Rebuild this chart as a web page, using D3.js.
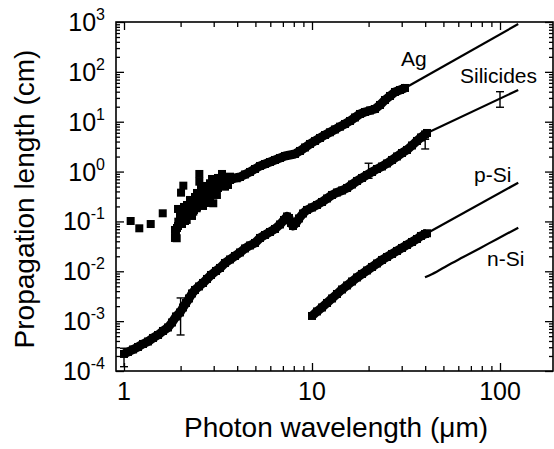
<!DOCTYPE html>
<html>
<head>
<meta charset="utf-8">
<script src="https://cdn.jsdelivr.net/npm/d3@7"></script>
<style>
  html, body { margin: 0; padding: 0; background: #fff; }
  svg { display: block; font-family: "Liberation Sans", Arial, Helvetica, sans-serif; }
</style>
</head>
<body>
<svg id="chart" width="554" height="449"></svg>
<script>
// ---- Data: [wavelength (µm), propagation length (cm)] ----

// Ag: scattered points at short wavelengths
const agScatter = [
  [1.085, 0.102], [1.206, 0.0728], [1.387, 0.0887], [1.607, 0.1456],
  [1.867, 0.0466], [1.907, 0.0460], [1.890, 0.0587], [1.867, 0.0674], [1.914, 0.0739],
  [1.945, 0.0989], [1.938, 0.0811], [2.035, 0.0889], [1.986, 0.1173], [1.986, 0.1287],
  [1.986, 0.1570], [2.027, 0.1246], [2.035, 0.1548], [2.137, 0.1229], [2.300, 0.1287],
  [1.938, 0.1778], [2.085, 0.1950], [2.244, 0.2042], [2.445, 0.1950], [2.632, 0.2042],
  [2.011, 0.3775], [2.068, 0.5215], [2.111, 0.1778], [2.155, 0.1070], [2.163, 0.2138],
  [2.198, 0.1977], [2.244, 0.2694], [2.292, 0.2313], [2.300, 0.1950], [2.337, 0.1570],
  [2.386, 0.2954], [2.386, 0.3094], [2.436, 0.1836], [2.445, 0.3722], [2.516, 0.895],
  [2.516, 0.627], [2.536, 0.2914], [2.568, 0.3240], [2.568, 0.4690], [2.599, 0.3240],
  [2.641, 0.3671], [2.697, 0.4276], [2.731, 0.4912], [2.754, 0.4276], [2.764, 0.3240],
  [2.764, 0.5143], [2.867, 0.5825], [2.867, 0.2694], [2.867, 0.2346], [2.903, 0.4690],
  [2.939, 0.3899], [2.939, 0.7105], [2.975, 0.5640], [2.985, 0.2313], [3.048, 0.6785],
  [3.162, 0.4690], [3.162, 0.7440], [3.241, 0.7440], [3.241, 0.6785], [3.321, 0.8951],
  [3.363, 0.5143], [3.445, 0.4979], [3.445, 0.7440], [3.574, 0.5385], [3.663, 0.7901],
  [3.753, 0.7440], [3.976, 0.7338],
  [2.111, 0.1021], [2.217, 0.1478], [2.356, 0.1698], [2.506, 0.2456], [2.664, 0.2346],
  [2.832, 0.3240], [3.012, 0.4276], [3.121, 0.3394]
];
// Ag: dense measured band
const agBand = [
  [3.445, 0.591], [3.663, 0.679], [3.894, 0.744], [4.140, 0.779], [4.401, 0.875],
  [4.679, 0.982], [4.975, 1.127], [5.289, 1.295], [5.623, 1.420], [5.978, 1.557],
  [6.356, 1.709], [6.757, 1.874], [7.184, 2.056], [7.638, 2.153], [8.120, 2.254],
  [8.633, 2.590], [9.180, 3.043], [9.759, 3.578], [10.38, 4.110], [11.03, 4.720],
  [11.73, 5.42], [12.46, 6.14], [13.25, 6.99], [14.09, 7.95], [14.98, 9.01],
  [15.93, 10.35], [16.93, 12.16], [18.00, 14.30], [19.14, 15.68], [20.35, 16.81],
  [21.63, 18.01], [23.00, 21.67], [24.45, 27.29], [26.00, 32.84], [27.64, 39.50],
  [29.38, 43.31], [31.24, 47.51]
];
const agLine = [[31.24, 47.5], [125, 912]];

// Silicides: measured points, extrapolated line and error bars
const silicideMarkers = [
  [1.000, 2.197e-4], [1.050, 2.409e-4], [1.117, 2.704e-4], [1.187, 3.034e-4],
  [1.262, 3.485e-4], [1.342, 3.913e-4], [1.427, 4.599e-4], [1.517, 5.281e-4],
  [1.612, 6.354e-4], [1.714, 7.468e-4], [1.800, 9.410e-4], [1.890, 1.241e-3],
  [1.986, 1.493e-3], [2.060, 1.880e-3], [2.137, 2.315e-3], [2.217, 2.850e-3],
  [2.300, 3.590e-3], [2.386, 4.221e-3], [2.506, 4.961e-3], [2.632, 5.832e-3],
  [2.764, 7.015e-3], [2.903, 8.437e-3], [3.086, 0.01015], [3.241, 0.01166],
  [3.445, 0.01468], [3.663, 0.01726], [3.894, 0.02029], [4.140, 0.02384],
  [4.401, 0.02868], [4.679, 0.03295], [4.975, 0.03698], [5.289, 0.04660],
  [5.623, 0.05351], [5.978, 0.06145], [6.356, 0.07060], [6.757, 0.08690],
  [7.097, 0.1070], [7.362, 0.1257], [7.545, 0.1173], [7.732, 0.0931],
  [7.924, 0.0811], [8.220, 0.0931], [8.528, 0.1147], [8.956, 0.1444],
  [9.406, 0.1698], [10.00, 0.1905], [10.63, 0.2138], [11.30, 0.2456],
  [12.02, 0.2887], [12.78, 0.3394], [13.58, 0.3808], [14.44, 0.4177],
  [15.36, 0.4690], [16.32, 0.5511], [17.36, 0.6478], [18.45, 0.7440],
  [19.62, 0.8547], [20.86, 0.9817], [22.17, 1.127], [23.57, 1.266],
  [25.06, 1.454], [26.64, 1.709], [28.32, 2.008], [30.11, 2.360],
  [32.01, 2.712], [34.03, 3.338], [36.18, 4.110], [37.99, 4.830],
  [39.91, 5.548], [40.9, 5.945]
];
const silicideLine = [[40.9, 5.95], [125, 43.2]];
// [wavelength, low, high]
const silicideErrors = [
  [1, 1.22e-4, 2.86e-4],
  [2, 5.28e-4, 2.92e-3],
  [20, 0.734, 1.47],
  [40, 2.84, 4.44],
  [100, 19.5, 40.0]
];

// p-Si: measured points and extrapolated line
const pSiMarkers = [
  [10.00, 1.270e-3], [10.63, 1.564e-3], [11.30, 1.880e-3], [12.02, 2.315e-3],
  [12.78, 2.850e-3], [13.58, 3.508e-3], [14.44, 4.319e-3], [15.36, 5.194e-3],
  [16.32, 6.248e-3], [17.36, 7.516e-3], [18.45, 8.837e-3], [19.62, 0.01039],
  [20.86, 0.01221], [22.17, 0.01435], [23.57, 0.01687], [25.06, 0.01937],
  [26.64, 0.02225], [28.32, 0.02556], [30.11, 0.02935], [32.01, 0.03372],
  [34.03, 0.03873], [36.18, 0.04448], [37.99, 0.05110], [39.91, 0.05604],
  [40.9, 0.05786]
];
const pSiLine = [[40.9, 0.0579], [125, 0.598]];

// n-Si: calculated curve
const nSiLine = [
  [39.91, 7.59e-3], [46.06, 9.83e-3], [52.07, 0.01279], [63.80, 0.01929],
  [78.27, 0.02909], [96.03, 0.04407], [125.1, 0.0749]
];

const seriesNames = ["Ag", "Silicides", "p-Si", "n-Si"];
const xTickValues = [1, 10, 100];
const yTickExponents = [-4, -3, -2, -1, 0, 1, 2, 3];
const xTitle = "Photon wavelength (\u03bcm)";
const yTitle = "Propagation length (cm)";

// ---- Layout ----
const svg = d3.select("#chart");
const frame = { left: 116, right: 553, top: 22, bottom: 371 };

const x = d3.scaleLog().domain([1, 100]).range([124, 500]);
const y = d3.scaleLog().domain([1e-4, 1e3]).range([frame.bottom, frame.top]);

const xMin = x.invert(frame.left), xMax = x.invert(frame.right);

// minor tick values (2..9 per decade) inside the frame
const xMinor = [];
[1, 10, 100].forEach(d => { for (let k = 2; k <= 9; k++) { const v = k * d; if (v > xMin && v < xMax) xMinor.push(v); } });
const yMinor = [];
for (let e = -4; e < 3; e++) for (let k = 2; k <= 9; k++) yMinor.push(k * Math.pow(10, e));
const yMajor = yTickExponents.map(e => Math.pow(10, e));

// ---- Ticks (drawn inward on all four sides) ----
function tickGroup(axis, tx, ty) {
  const g = svg.append("g").attr("transform", `translate(${tx},${ty})`).call(axis);
  g.select(".domain").remove();
  g.selectAll(".tick line").attr("stroke", "#000").attr("stroke-width", 1.3);
  g.selectAll(".tick text").remove();
  return g;
}
tickGroup(d3.axisBottom(x).tickValues(xTickValues).tickSize(-8).tickFormat(""), 0, frame.bottom);
tickGroup(d3.axisBottom(x).tickValues(xMinor).tickSize(-5).tickFormat(""), 0, frame.bottom);
tickGroup(d3.axisTop(x).tickValues(xTickValues).tickSize(-8).tickFormat(""), 0, frame.top);
tickGroup(d3.axisTop(x).tickValues(xMinor).tickSize(-5).tickFormat(""), 0, frame.top);
tickGroup(d3.axisLeft(y).tickValues(yMajor).tickSize(-8).tickFormat(""), frame.left, 0);
tickGroup(d3.axisLeft(y).tickValues(yMinor).tickSize(-4).tickFormat(""), frame.left, 0);
tickGroup(d3.axisRight(y).tickValues(yMajor).tickSize(-8).tickFormat(""), frame.right, 0);
tickGroup(d3.axisRight(y).tickValues(yMinor).tickSize(-4).tickFormat(""), frame.right, 0);

// frame
svg.append("rect")
  .attr("x", frame.left).attr("y", frame.top)
  .attr("width", frame.right - frame.left).attr("height", frame.bottom - frame.top)
  .attr("fill", "none").attr("stroke", "#000").attr("stroke-width", 1.6);

// ---- Tick labels ----
svg.append("g").selectAll("text").data(xTickValues).join("text")
  .attr("x", d => x(d)).attr("y", 400)
  .attr("text-anchor", "middle").attr("font-size", 25).attr("fill", "#000")
  .text(d => d);

const yl = svg.append("g").selectAll("text").data(yTickExponents).join("text")
  .attr("x", 105).attr("y", d => y(Math.pow(10, d)) + 9)
  .attr("text-anchor", "end").attr("fill", "#000");
yl.append("tspan").attr("font-size", 25).text("10");
yl.append("tspan").attr("font-size", 16).attr("dy", -11).text(d => String(d));

// ---- Axis titles ----
svg.append("text").attr("x", 336).attr("y", 437)
  .attr("text-anchor", "middle").attr("font-size", 28).attr("fill", "#000").text(xTitle);
svg.append("text").attr("transform", "translate(34,199) rotate(-90)")
  .attr("text-anchor", "middle").attr("font-size", 28).attr("fill", "#000").text(yTitle);

// ---- Marks ----
const plot = svg.append("g");
const line = d3.line().x(d => x(d[0])).y(d => y(d[1]));
const curve = d3.line().x(d => x(d[0])).y(d => y(d[1])).curve(d3.curveMonotoneX);
const S = 8; // square marker size

// thin lines: extrapolations and calculated curve
[agLine, silicideLine, pSiLine].forEach(data => {
  plot.append("path").datum(data).attr("d", line)
    .attr("fill", "none").attr("stroke", "#000").attr("stroke-width", 2.2);
});
plot.append("path").datum(nSiLine).attr("d", curve)
  .attr("fill", "none").attr("stroke", "#000").attr("stroke-width", 2.2);

// densely sampled measurements merge into a thick trace
[agBand, silicideMarkers, pSiMarkers].forEach(data => {
  plot.append("path").datum(data).attr("d", line)
    .attr("fill", "none").attr("stroke", "#000").attr("stroke-width", 9)
    .attr("stroke-linejoin", "round");
});

[agScatter, agBand, silicideMarkers, pSiMarkers].forEach(data => {
  plot.append("g").selectAll("rect").data(data).join("rect")
    .attr("x", d => x(d[0]) - S / 2).attr("y", d => y(d[1]) - S / 2)
    .attr("width", S).attr("height", S).attr("fill", "#000");
});

// error bars
const eb = plot.append("g").attr("stroke", "#000").attr("stroke-width", 1.4);
silicideErrors.forEach(([w, lo, hi]) => {
  const cx = x(w);
  eb.append("line").attr("x1", cx).attr("x2", cx).attr("y1", y(lo)).attr("y2", y(hi));
  eb.append("line").attr("x1", cx - 4).attr("x2", cx + 4).attr("y1", y(lo)).attr("y2", y(lo));
  eb.append("line").attr("x1", cx - 4).attr("x2", cx + 4).attr("y1", y(hi)).attr("y2", y(hi));
});

// ---- Series labels ----
const labelPos = [[401, 66], [460, 83], [474, 182], [487, 266]];
svg.append("g").selectAll("text").data(seriesNames).join("text")
  .attr("x", (d, i) => labelPos[i][0]).attr("y", (d, i) => labelPos[i][1])
  .attr("font-size", 21).attr("fill", "#000").text(d => d);
</script>
</body>
</html>
